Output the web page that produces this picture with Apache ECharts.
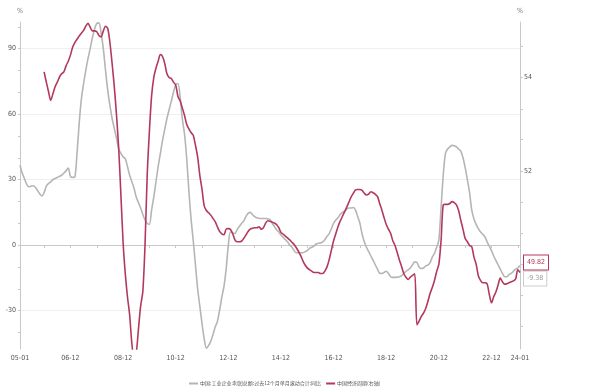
<!DOCTYPE html>
<html><head><meta charset="utf-8">
<script src="https://cdn.jsdelivr.net/npm/echarts@6/dist/echarts.min.js"></script>
<style>html,body{margin:0;padding:0;background:#fff}#c{width:592px;height:392px}</style>
</head><body><div id="c"></div>
<script>
// months 2005-01 .. 2024-01
const startYear = 2005;
const categories = [];
for (let i = 0; i < 229; i++) {
  const y = startYear + Math.floor(i / 12), m = i % 12 + 1;
  categories.push(String(y % 100).padStart(2, '0') + '-' + String(m).padStart(2, '0'));
}
const seriesNames = ['中国:工业企业:利润总额:过去12个月单月滚动合计:同比', '中国经济周期(右轴)'];
// left axis (%)
const profitYoY = [
  36.6, 33, 30.5, 28, 26.7, 27, 27.2, 26.5, 25, 23.5, 22.5, 24,
  27, 28.2, 29, 30, 30.5, 31, 31.5, 32, 33, 34, 35.3, 31.5,
  31, 31.2, 42, 56, 67, 74, 80, 85.4, 90, 95, 99, 101.5,
  101.8, 97, 90, 80, 71, 64, 58, 53.4, 49, 44, 42, 40.5,
  39.6, 36, 32, 29, 26, 22, 19.5, 17, 14, 11.5, 10, 9.5,
  16, 22, 29, 36, 42, 48, 53, 58, 62, 66, 70, 73.5,
  74, 68, 58, 51, 40, 25, 12, 2, -9, -20, -28, -36,
  -43, -47.2, -46, -44, -41, -37.5, -35, -30, -24, -19, -11, 0,
  6.1, 5.5, 5.3, 7, 8.5, 9.9, 11, 13, 14.5, 15, 14, 13,
  12.5, 12.3, 12.2, 12.2, 12.2, 12, 11.7, 10, 8.5, 7, 6, 4.6,
  3.5, 2.5, 1.5, 0, -1, -2.5, -3.5, -3.5, -3.5, -3.5, -3, -2.5,
  -1.5, -1, -0.5, 0.5, 0.8, 1, 1.5, 2.5, 4, 5.3, 7.5, 10,
  11.5, 12.5, 14, 15, 15.5, 16.5, 17, 17, 17.2, 16, 13, 10,
  5, 1.5, -1, -3, -5, -6.9, -9, -11, -12.9, -13, -12.5, -12,
  -13, -14.5, -14.8, -14.8, -14.7, -14.5, -14, -13, -12, -11.4, -10.5, -9,
  -7.6, -8, -10, -10.7, -10.5, -9.5, -9.2, -8, -5.5, -3.8, -1, 2.3,
  17, 32, 42, 44, 45, 45.7, 45.5, 45, 44, 43, 40, 35.5,
  30, 24, 16, 12, 9.5, 7.5, 6, 5, 3.8, 1.5, -0.5, -2.5,
  -5, -7, -9, -11, -13, -14.5, -14.5, -13.5, -13, -12, -11, -10.5,
  -9.38
];
// right axis
const cycle = [
  null, null, null, null, null, null, null, null, null, null, null, 54.12,
  53.9, 53.7, 53.51, 53.65, 53.8, 53.9, 54.01, 54.08, 54.12, 54.25, 54.35, 54.48,
  54.65, 54.75, 54.82, 54.89, 54.95, 55.01, 55.1, 55.16, 55.08, 55.0, 55.0, 54.98,
  54.9, 54.87, 55.0, 55.1, 55.05, 54.75, 54.3, 53.8, 53.2, 52.48, 51.5, 50.48,
  49.8, 49.3, 48.91, 48.3, 48.0, 48.1, 48.6, 49.1, 49.41, 50.4, 51.9, 52.84,
  53.6, 54.0, 54.2, 54.35, 54.49, 54.45, 54.3, 54.08, 54.0, 53.98, 53.9, 53.84,
  53.6, 53.5, 53.35, 53.19, 53.0, 52.9, 52.82, 52.76, 52.55, 52.3, 51.9, 51.6,
  51.25, 51.15, 51.1, 51.05, 50.98, 50.91, 50.8, 50.7, 50.65, 50.63, 50.75, 50.76,
  50.74, 50.65, 50.52, 50.48, 50.48, 50.49, 50.55, 50.62, 50.7, 50.75, 50.77, 50.78,
  50.78, 50.8, 50.75, 50.78, 50.88, 50.93, 50.92, 50.9, 50.88, 50.85, 50.78, 50.68,
  50.64, 50.6, 50.56, 50.52, 50.47, 50.42, 50.35, 50.27, 50.18, 50.07, 49.98, 49.92,
  49.88, 49.85, 49.82, 49.82, 49.82, 49.8, 49.8, 49.85, 49.94, 50.1, 50.3, 50.5,
  50.65, 50.8, 50.92, 51.02, 51.12, 51.22, 51.33, 51.44, 51.52, 51.59, 51.6, 51.6,
  51.58, 51.52, 51.48, 51.5, 51.55, 51.53, 51.5, 51.45, 51.3, 51.16, 51.0, 50.85,
  50.75, 50.66, 50.5, 50.4, 50.25, 50.09, 49.95, 49.8, 49.72, 49.67, 49.72, 49.76,
  49.79, 48.7, 48.78, 48.88, 48.95, 49.05, 49.2, 49.37, 49.5, 49.65, 49.84, 50.0,
  50.5, 51.27, 51.28, 51.28, 51.3, 51.34, 51.32, 51.27, 51.15, 50.94, 50.75, 50.55,
  50.48, 50.4, 50.37, 50.15, 50.0, 49.75, 49.65, 49.6, 49.6, 49.58, 49.35, 49.17,
  49.3, 49.4, 49.55, 49.7, 49.62, 49.57, 49.58, 49.6, 49.62, 49.64, 49.68, 49.88,
  49.82
];
const leftLabels = [-30, 0, 30, 60, 90];
const leftTicks = [-40, -30, -20, -10, 0, 10, 20, 30, 40, 50, 60, 70, 80, 90, 100];
const rightLabels = [52, 54];
const rightTicks = [48.67, 49.33, 50, 50.67, 51.33, 52, 52.67, 53.33, 54, 54.67];

const narrow = '"Liberation Sans Narrow","DejaVu Sans Condensed","Roboto Condensed",sans-serif';
const cjk = '"Noto Sans CJK SC",sans-serif';
const RED = '#b3395c', GREY = '#b5b5b5';
const n = categories.length;
const isLabel = (i) => i === 0 || i === n - 1 || (i % 24 === 23);
const isTick = (i) => i === 0 || i === n - 1 || (i % 12 === 11);

const chart = echarts.init(document.getElementById('c'), null, {renderer: 'canvas'});
chart.setOption({
  animation: false,
  backgroundColor: '#fff',
  grid: {left: 20, right: 72, top: 22, bottom: 43, containLabel: false},
  legend: {
    left: 184, top: 376, itemGap: 5, itemWidth: 9, itemHeight: 2, icon: 'rect',
    textStyle: {fontSize: 5, color: '#555', fontFamily: cjk, padding: [0, 0, 0, -3]},
    data: seriesNames
  },
  xAxis: {
    type: 'category', data: categories, boundaryGap: false,
    axisLine: {lineStyle: {color: '#c8c8c8'}},
    axisTick: {interval: (i) => isTick(i), length: 3, lineStyle: {color: '#c8c8c8'}},
    axisLabel: {interval: (i) => isLabel(i), fontSize: 7, color: '#555', fontFamily: narrow, margin: 6},
    splitLine: {show: false}
  },
  yAxis: [
    {
      type: 'value', position: 'left', min: -47.6, max: 102.2,
      name: '%', nameLocation: 'end', nameGap: 7,
      nameTextStyle: {fontSize: 7, color: '#777', fontFamily: narrow, align: 'center'},
      axisLine: {show: true, lineStyle: {color: '#c8c8c8'}},
      axisTick: {show: true, customValues: leftTicks, length: 2, lineStyle: {color: '#c8c8c8'}},
      axisLabel: {customValues: leftLabels, fontSize: 7, color: '#555', fontFamily: narrow, margin: 4},
      splitLine: {show: false}
    },
    {
      type: 'value', position: 'right', min: 48.18, max: 55.19,
      name: '%', nameLocation: 'end', nameGap: 7,
      nameTextStyle: {fontSize: 7, color: '#777', fontFamily: narrow, align: 'center'},
      axisLine: {show: true, lineStyle: {color: '#c8c8c8'}},
      axisTick: {show: true, customValues: rightTicks, length: 3, lineStyle: {color: '#c8c8c8'}},
      axisLabel: {customValues: rightLabels, fontSize: 7, color: '#555', fontFamily: narrow, margin: 4},
      splitLine: {show: false}
    },
    {
      type: 'value', position: 'left', min: -47.6, max: 102.2,
      axisLine: {show: false},
      axisTick: {show: false, customValues: leftLabels},
      axisLabel: {show: false},
      splitLine: {show: true, lineStyle: {color: '#efefef', width: 1}}
    }
  ],
  series: [
    {
      name: seriesNames[0], type: 'line', yAxisIndex: 0, data: profitYoY,
      showSymbol: false, smooth: 0.3, color: GREY,
      lineStyle: {width: 1.6, color: GREY},
      endLabel: {
        show: true, formatter: '-9.38', color: '#999', fontSize: 7, fontFamily: narrow,
        backgroundColor: '#fff', borderColor: '#ccc', borderWidth: 1, padding: [4, 3, 3, 3],
        distance: 4, offset: [0, 13]
      }
    },
    {
      name: seriesNames[1], type: 'line', yAxisIndex: 1, data: cycle,
      showSymbol: false, smooth: 0.3, color: RED, connectNulls: false,
      lineStyle: {width: 1.6, color: RED},
      endLabel: {
        show: true, formatter: '49.82', color: RED, fontSize: 7, fontFamily: narrow,
        backgroundColor: '#fff', borderColor: RED, borderWidth: 1, padding: [4, 3, 3, 3],
        distance: 4, offset: [0, -10]
      }
    }
  ]
});
</script></body></html>
